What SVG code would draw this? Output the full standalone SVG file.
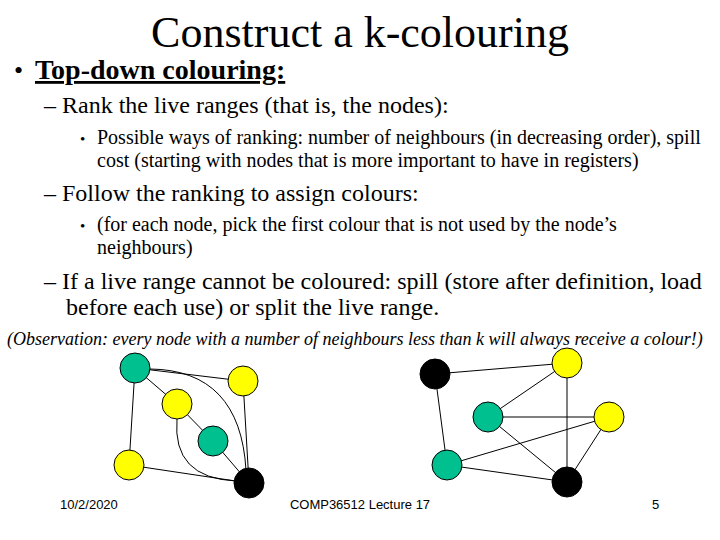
<svg xmlns="http://www.w3.org/2000/svg" width="720" height="540" viewBox="0 0 720 540">
<style>
text{font-family:"Liberation Serif","Times New Roman",serif;fill:#000}
.f{font-family:"Liberation Sans",Arial,sans-serif}
.e{stroke:#000;stroke-width:1;fill:none}
.n{stroke:#000;stroke-width:1}
.y{fill:#ffff00}.t{fill:#00c090}.k{fill:#000}
</style>
<rect width="720" height="540" fill="#fff"/>
<text x="360" y="47" font-size="44" text-anchor="middle">Construct a k-colouring</text>
<text x="14" y="79" font-size="26">•</text>
<text x="35" y="79" font-size="28" font-weight="bold" text-decoration="underline">Top-down colouring:</text>
<text x="44" y="113" font-size="24">– Rank the live ranges (that is, the nodes):</text>
<text x="80" y="144" font-size="15">•</text>
<text x="97" y="144" font-size="20">Possible ways of ranking: number of neighbours (in decreasing order), spill</text>
<text x="97" y="167" font-size="20">cost (starting with nodes that is more important to have in registers)</text>
<text x="44" y="201" font-size="24">– Follow the ranking to assign colours:</text>
<text x="80" y="231" font-size="15">•</text>
<text x="97" y="231" font-size="20">(for each node, pick the first colour that is not used by the node’s</text>
<text x="97" y="254" font-size="20">neighbours)</text>
<text x="44" y="289" font-size="24">– If a live range cannot be coloured: spill (store after definition, load</text>
<text x="66" y="315" font-size="24">before each use) or split the live range.</text>
<text x="7" y="345" font-size="18" font-style="italic">(Observation: every node with a number of neighbours less than k will always receive a colour!)</text>
<g id="connectors">
<line class="e" x1="135" y1="368" x2="243" y2="381"/>
<line class="e" x1="135" y1="368" x2="177" y2="404"/>
<line class="e" x1="135" y1="368" x2="129" y2="465"/>
<line class="e" x1="177" y1="404" x2="213" y2="441"/>
<line class="e" x1="213" y1="441" x2="249" y2="483"/>
<line class="e" x1="243" y1="381" x2="249" y2="483"/>
<line class="e" x1="129" y1="465" x2="249" y2="483"/>
<path class="e" d="M150 369 Q240 370 246 470"/>
<path class="e" d="M177 419 Q172 478 236 481"/>
<line class="e" x1="435" y1="374" x2="567" y2="363"/>
<line class="e" x1="435" y1="374" x2="447" y2="465"/>
<line class="e" x1="567" y1="363" x2="488" y2="417"/>
<line class="e" x1="567" y1="363" x2="567" y2="482"/>
<line class="e" x1="488" y1="417" x2="609" y2="417"/>
<line class="e" x1="488" y1="417" x2="567" y2="482"/>
<line class="e" x1="447" y1="465" x2="609" y2="417"/>
<line class="e" x1="447" y1="465" x2="567" y2="482"/>
<line class="e" x1="609" y1="417" x2="567" y2="482"/>
</g>
<g id="nA"><circle class="n t" cx="135" cy="368" r="15"/></g>
<g id="nB"><circle class="n y" cx="243" cy="381" r="15"/></g>
<g id="nC"><circle class="n y" cx="177" cy="404" r="15"/></g>
<g id="nD"><circle class="n t" cx="213" cy="441" r="15"/></g>
<g id="nE"><circle class="n y" cx="129" cy="465" r="15"/></g>
<g id="nF"><circle class="n k" cx="249" cy="483" r="15"/></g>
<g id="nG"><circle class="n k" cx="435" cy="374" r="15"/></g>
<g id="nH"><circle class="n y" cx="567" cy="363" r="15"/></g>
<g id="nI"><circle class="n t" cx="488" cy="417" r="15"/></g>
<g id="nJ"><circle class="n y" cx="609" cy="417" r="15"/></g>
<g id="nK"><circle class="n t" cx="447" cy="465" r="15"/></g>
<g id="nL"><circle class="n k" cx="567" cy="482" r="15"/></g>
<text class="f" x="60" y="509" font-size="13">10/2/2020</text>
<text class="f" x="360" y="509" font-size="13" text-anchor="middle">COMP36512 Lecture 17</text>
<text class="f" x="652" y="509" font-size="13">5</text>
</svg>
